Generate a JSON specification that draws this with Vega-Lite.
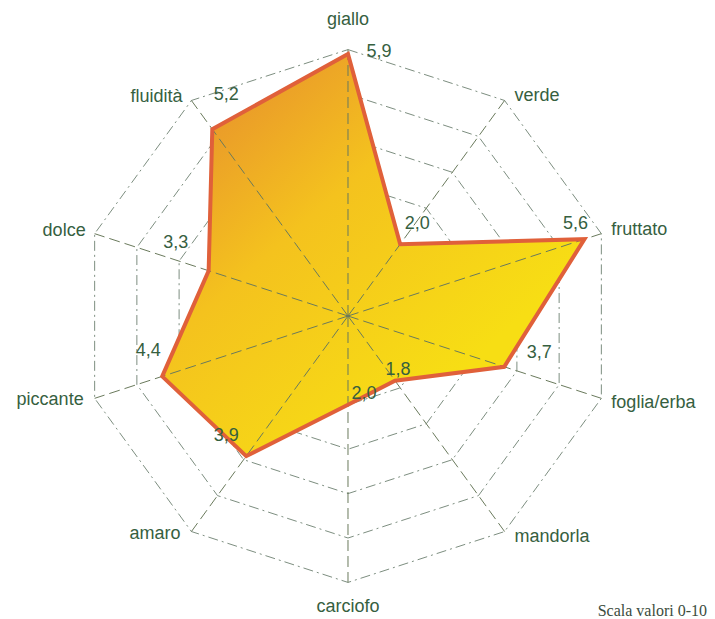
{
  "$schema": "https://vega.github.io/schema/vega-lite/v6.json",
  "width": 715,
  "height": 619,
  "padding": 0,
  "autosize": {"type": "none"},
  "background": "white",
  "config": {"view": {"stroke": null}},
  "title": {
    "text": "Scala valori 0-10",
    "orient": "bottom",
    "anchor": "end",
    "offset": -3,
    "dx": -8,
    "baseline": "alphabetic",
    "font": "Liberation Serif",
    "fontSize": 16,
    "fontWeight": "normal",
    "color": "#3b4c3d"
  },
  "datasets": {
    "scores": [
      {"attr": "giallo", "idx": 0, "value": 5.9},
      {"attr": "verde", "idx": 1, "value": 2.0},
      {"attr": "fruttato", "idx": 2, "value": 5.6},
      {"attr": "foglia/erba", "idx": 3, "value": 3.7},
      {"attr": "mandorla", "idx": 4, "value": 1.8},
      {"attr": "carciofo", "idx": 5, "value": 2.0},
      {"attr": "amaro", "idx": 6, "value": 3.9},
      {"attr": "piccante", "idx": 7, "value": 4.4},
      {"attr": "dolce", "idx": 8, "value": 3.3},
      {"attr": "fluidità", "idx": 9, "value": 5.2}
    ],
    "rings": [
      {"ring": 1, "idx": [0, 1, 2, 3, 4, 5, 6, 7, 8, 9]},
      {"ring": 2, "idx": [0, 1, 2, 3, 4, 5, 6, 7, 8, 9]},
      {"ring": 3, "idx": [0, 1, 2, 3, 4, 5, 6, 7, 8, 9]},
      {"ring": 4, "idx": [0, 1, 2, 3, 4, 5, 6, 7, 8, 9]},
      {"ring": 5, "idx": [0, 1, 2, 3, 4, 5, 6, 7, 8, 9]},
      {"ring": 6, "idx": [0, 1, 2, 3, 4, 5, 6, 7, 8, 9]}
    ]
  },
  "layer": [
    {
      "data": {"name": "rings"},
      "transform": [
        {"flatten": ["idx"]},
        {"calculate": "datum.ring * sin(datum.idx * PI / 5)", "as": "px"},
        {"calculate": "datum.ring * cos(datum.idx * PI / 5)", "as": "py"}
      ],
      "mark": {"type": "line", "interpolate": "linear-closed", "stroke": "#7d8e80", "strokeWidth": 1, "strokeDash": [10, 4, 2, 4]},
      "encoding": {
        "x": {"field": "px", "type": "quantitative", "axis": null, "scale": {"domain": [-7.838, 8.266], "nice": false, "zero": false}},
        "y": {"field": "py", "type": "quantitative", "axis": null, "scale": {"domain": [-6.824, 7.117], "nice": false, "zero": false}},
        "detail": {"field": "ring"},
        "order": {"field": "idx"}
      }
    },
    {
      "data": {"name": "scores"},
      "transform": [
        {"calculate": "datum.value * sin(datum.idx * PI / 5)", "as": "px"},
        {"calculate": "datum.value * cos(datum.idx * PI / 5)", "as": "py"}
      ],
      "mark": {
        "type": "line",
        "interpolate": "linear-closed",
        "strokeWidth": 0,
        "fill": {
          "gradient": "linear",
          "x1": 0.1, "y1": 0.05, "x2": 0.75, "y2": 0.75,
          "stops": [
            {"offset": 0, "color": "#e78f2d"},
            {"offset": 0.45, "color": "#f4c21e"},
            {"offset": 1, "color": "#f7de14"}
          ]
        }
      },
      "encoding": {
        "x": {"field": "px", "type": "quantitative", "axis": null, "scale": {"domain": [-7.838, 8.266], "nice": false, "zero": false}},
        "y": {"field": "py", "type": "quantitative", "axis": null, "scale": {"domain": [-6.824, 7.117], "nice": false, "zero": false}},
        "order": {"field": "idx"}
      }
    },
    {
      "data": {"name": "scores"},
      "transform": [
        {"calculate": "datum.value * sin(datum.idx * PI / 5)", "as": "px"},
        {"calculate": "datum.value * cos(datum.idx * PI / 5)", "as": "py"},
        {"calculate": "6 * sin(datum.idx * PI / 5)", "as": "ox"},
        {"calculate": "6 * cos(datum.idx * PI / 5)", "as": "oy"},
        {"calculate": "0", "as": "zero"},
        {"calculate": "replace(format(datum.value, '.1f'), '.', ',')", "as": "label"}
      ],
      "encoding": {
        "x": {"field": "px", "type": "quantitative", "axis": null, "scale": {"domain": [-7.838, 8.266], "nice": false, "zero": false}},
        "y": {"field": "py", "type": "quantitative", "axis": null, "scale": {"domain": [-6.824, 7.117], "nice": false, "zero": false}}
      },
      "layer": [
        {
          "mark": {"type": "rule", "stroke": "#6a7a5c", "strokeWidth": 1, "strokeDash": [11, 5]},
          "encoding": {
            "x": {"field": "zero", "type": "quantitative"},
            "y": {"field": "zero", "type": "quantitative"},
            "x2": {"field": "ox"},
            "y2": {"field": "oy"}
          }
        },
        {
          "mark": {"type": "line", "interpolate": "linear-closed", "stroke": "#e0603a", "strokeWidth": 4, "strokeJoin": "miter"},
          "encoding": {"order": {"field": "idx"}}
        },
        {
          "transform": [{"filter": "datum.attr == 'giallo'"}],
          "mark": {"type": "text", "align": "center", "baseline": "middle", "dy": -30, "font": "Liberation Sans", "fontSize": 18, "fill": "#36603f"},
          "encoding": {"x": {"field": "ox", "type": "quantitative"}, "y": {"field": "oy", "type": "quantitative"}, "text": {"field": "attr"}}
        },
        {
          "transform": [{"filter": "datum.attr == 'carciofo'"}],
          "mark": {"type": "text", "align": "center", "baseline": "middle", "dy": 25, "font": "Liberation Sans", "fontSize": 18, "fill": "#36603f"},
          "encoding": {"x": {"field": "ox", "type": "quantitative"}, "y": {"field": "oy", "type": "quantitative"}, "text": {"field": "attr"}}
        },
        {
          "transform": [{"filter": "datum.attr == 'verde' || datum.attr == 'fruttato'"}],
          "mark": {"type": "text", "align": "left", "baseline": "middle", "dx": 10, "dy": -4, "font": "Liberation Sans", "fontSize": 18, "fill": "#36603f"},
          "encoding": {"x": {"field": "ox", "type": "quantitative"}, "y": {"field": "oy", "type": "quantitative"}, "text": {"field": "attr"}}
        },
        {
          "transform": [{"filter": "datum.attr == 'foglia/erba' || datum.attr == 'mandorla'"}],
          "mark": {"type": "text", "align": "left", "baseline": "middle", "dx": 10, "dy": 5, "font": "Liberation Sans", "fontSize": 18, "fill": "#36603f"},
          "encoding": {"x": {"field": "ox", "type": "quantitative"}, "y": {"field": "oy", "type": "quantitative"}, "text": {"field": "attr"}}
        },
        {
          "transform": [{"filter": "datum.attr == 'fluidità' || datum.attr == 'dolce'"}],
          "mark": {"type": "text", "align": "right", "baseline": "middle", "dx": -9, "dy": -3, "font": "Liberation Sans", "fontSize": 18, "fill": "#36603f"},
          "encoding": {"x": {"field": "ox", "type": "quantitative"}, "y": {"field": "oy", "type": "quantitative"}, "text": {"field": "attr"}}
        },
        {
          "transform": [{"filter": "datum.attr == 'piccante' || datum.attr == 'amaro'"}],
          "mark": {"type": "text", "align": "right", "baseline": "middle", "dx": -11, "dy": 2, "font": "Liberation Sans", "fontSize": 18, "fill": "#36603f"},
          "encoding": {"x": {"field": "ox", "type": "quantitative"}, "y": {"field": "oy", "type": "quantitative"}, "text": {"field": "attr"}}
        },
        {
          "transform": [{"filter": "datum.attr == 'giallo'"}],
          "mark": {"type": "text", "align": "center", "baseline": "middle", "dx": 31, "dy": -2, "font": "Liberation Sans", "fontSize": 18, "fill": "#36603f"},
          "encoding": {"text": {"field": "label"}}
        },
        {
          "transform": [{"filter": "datum.attr == 'verde'"}],
          "mark": {"type": "text", "align": "center", "baseline": "middle", "dx": 17, "dy": -20, "font": "Liberation Sans", "fontSize": 18, "fill": "#36603f"},
          "encoding": {"text": {"field": "label"}}
        },
        {
          "transform": [{"filter": "datum.attr == 'fruttato'"}],
          "mark": {"type": "text", "align": "center", "baseline": "middle", "dx": -9, "dy": -15, "font": "Liberation Sans", "fontSize": 18, "fill": "#36603f"},
          "encoding": {"text": {"field": "label"}}
        },
        {
          "transform": [{"filter": "datum.attr == 'foglia/erba'"}],
          "mark": {"type": "text", "align": "center", "baseline": "middle", "dx": 35, "dy": -14, "font": "Liberation Sans", "fontSize": 18, "fill": "#36603f"},
          "encoding": {"text": {"field": "label"}}
        },
        {
          "transform": [{"filter": "datum.attr == 'mandorla'"}],
          "mark": {"type": "text", "align": "center", "baseline": "middle", "dx": 3, "dy": -11, "font": "Liberation Sans", "fontSize": 18, "fill": "#36603f"},
          "encoding": {"text": {"field": "label"}}
        },
        {
          "transform": [{"filter": "datum.attr == 'carciofo'"}],
          "mark": {"type": "text", "align": "center", "baseline": "middle", "dx": 16, "dy": -11, "font": "Liberation Sans", "fontSize": 18, "fill": "#36603f"},
          "encoding": {"text": {"field": "label"}}
        },
        {
          "transform": [{"filter": "datum.attr == 'amaro'"}],
          "mark": {"type": "text", "align": "center", "baseline": "middle", "dx": -20, "dy": -20, "font": "Liberation Sans", "fontSize": 18, "fill": "#36603f"},
          "encoding": {"text": {"field": "label"}}
        },
        {
          "transform": [{"filter": "datum.attr == 'piccante'"}],
          "mark": {"type": "text", "align": "center", "baseline": "middle", "dx": -14, "dy": -25, "font": "Liberation Sans", "fontSize": 18, "fill": "#36603f"},
          "encoding": {"text": {"field": "label"}}
        },
        {
          "transform": [{"filter": "datum.attr == 'dolce'"}],
          "mark": {"type": "text", "align": "center", "baseline": "middle", "dx": -33, "dy": -28, "font": "Liberation Sans", "fontSize": 18, "fill": "#36603f"},
          "encoding": {"text": {"field": "label"}}
        },
        {
          "transform": [{"filter": "datum.attr == 'fluidità'"}],
          "mark": {"type": "text", "align": "center", "baseline": "middle", "dx": 14, "dy": -34, "font": "Liberation Sans", "fontSize": 18, "fill": "#36603f"},
          "encoding": {"text": {"field": "label"}}
        }
      ]
    }
  ]
}
